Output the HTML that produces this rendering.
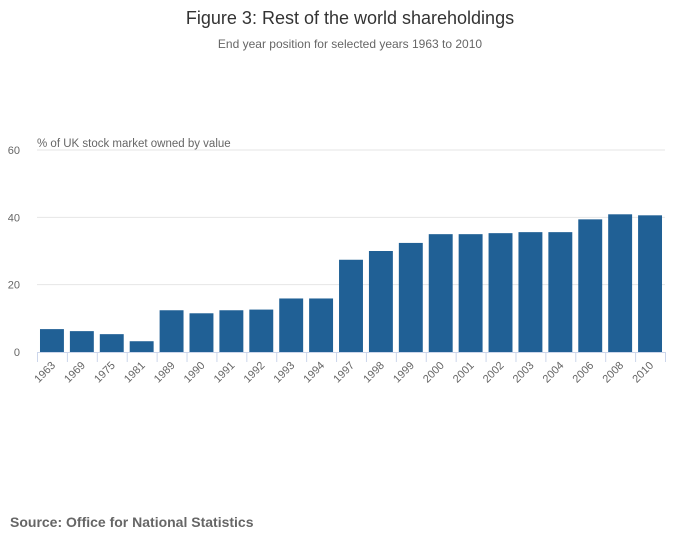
<!DOCTYPE html>
<html><head><meta charset="utf-8"><style>
body{margin:0;background:#fff;font-family:"Liberation Sans",sans-serif;}
svg text{font-family:"Liberation Sans",sans-serif;}
</style></head><body>
<svg id="chart" width="700" height="549" xmlns="http://www.w3.org/2000/svg">
<text x="350" y="24" text-anchor="middle" font-size="18" fill="#333">Figure 3: Rest of the world shareholdings</text>
<text x="350" y="48" text-anchor="middle" font-size="12" fill="#666">End year position for selected years 1963 to 2010</text>
<text x="37" y="147" font-size="11.5" fill="#666">% of UK stock market owned by value</text>
<g id="grid"></g><g id="bars"></g><g id="xaxis"></g>
<text x="10" y="527" font-size="14" font-weight="bold" fill="#666">Source: Office for National Statistics</text>
</svg>
<script>
const categories=["1963","1969","1975","1981","1989","1990","1991","1992","1993","1994","1997","1998","1999","2000","2001","2002","2003","2004","2006","2008","2010"];
const values=[6.8,6.2,5.3,3.2,12.4,11.5,12.4,12.6,15.9,15.9,27.4,30.0,32.4,35.0,35.0,35.3,35.6,35.6,39.4,40.9,40.6];
const yTicks=[0,20,40,60];
const NS="http://www.w3.org/2000/svg";
const x0=37,x1=665,yb=352,yt=150,ymax=60;
const y=v=>yb-(v/ymax)*(yb-yt);
const band=(x1-x0)/categories.length;
const bx=i=>x0+i*band;
function mk(t,a,p){const e=document.createElementNS(NS,t);for(const k in a)e.setAttribute(k,a[k]);p.appendChild(e);return e;}
const grid=document.getElementById('grid'),bars=document.getElementById('bars'),xa=document.getElementById('xaxis');
yTicks.forEach(v=>{
  if(v>0){const l=mk('line',{x1:x0,x2:x1,y1:y(v),y2:y(v),stroke:'#e6e6e6'},grid);
  
  }
  const t=mk('text',{x:20,y:y(v)+4,'text-anchor':'end','font-size':'11',fill:'#666'},grid);
  t.textContent=v;
  
  
});
const al=mk('line',{x1:x0,x2:x1,y1:yb+0.5,y2:yb+0.5,stroke:'#ccd6eb'},xa);


categories.forEach((c,i)=>{
  const pad=band*0.1;
  const r=mk('rect',{x:bx(i)+pad,y:y(values[i]),width:band-2*pad,height:yb-y(values[i]),fill:'#206095'},bars);
  
  
  const tk=mk('line',{x1:bx(i)+0.5,x2:bx(i)+0.5,y1:yb,y2:yb+10,stroke:'#ccd6eb'},xa);
  
  
  const cx=bx(i)+band/2+4,cy=yb+14;
  const t=mk('text',{x:cx,y:cy,'text-anchor':'end','font-size':'11',fill:'#666',transform:`rotate(-45 ${cx} ${cy})`},xa);
  t.textContent=c;
  
  
});
const tk=mk('line',{x1:x1+0.5,x2:x1+0.5,y1:yb,y2:yb+10,stroke:'#ccd6eb'},xa);


</script>
</body></html>
